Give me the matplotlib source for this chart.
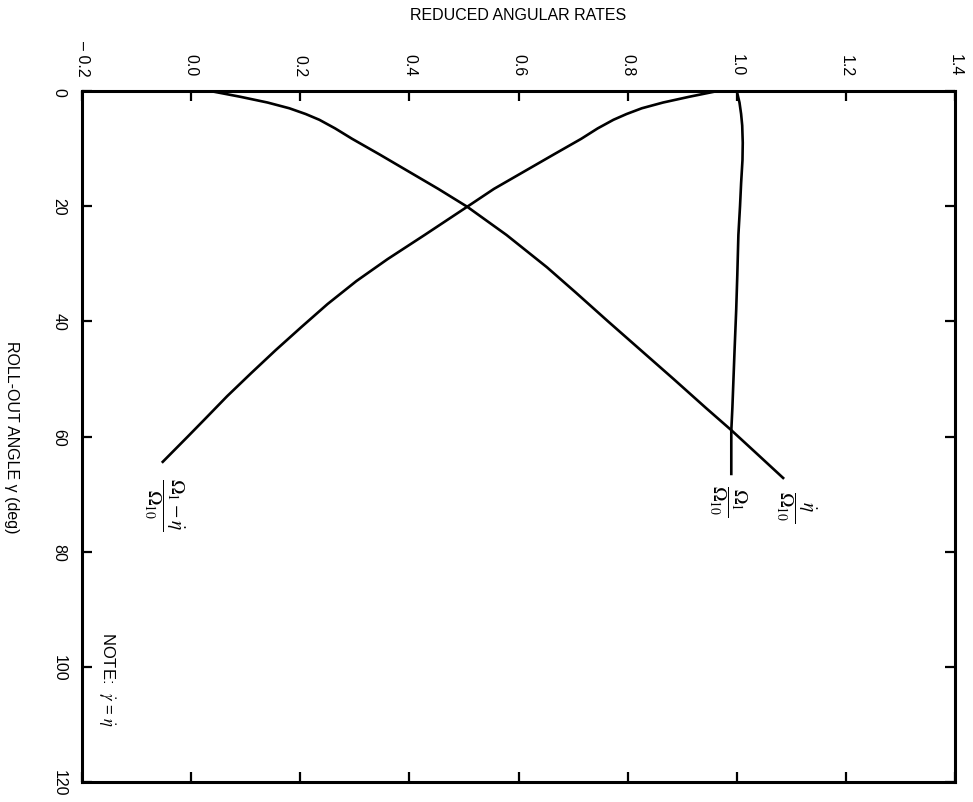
import matplotlib
matplotlib.use("Agg")
import matplotlib.pyplot as plt

plt.rcParams['font.family'] = ['Liberation Sans', 'DejaVu Sans']
plt.rcParams['mathtext.fontset'] = 'stix'

# roll-out angle (deg) vs reduced angular rates
eta_angle = [0, 1, 2, 3, 4, 5, 6.5, 8.3, 11, 14, 17, 20.1, 25, 30.6, 35, 40,
             45, 50, 55, 58.9, 63, 67.2]
eta_rate = [0.035, 0.09, 0.14, 0.18, 0.21, 0.235, 0.264, 0.295, 0.345, 0.399, 0.453, 0.506,
            0.578, 0.652, 0.705, 0.764, 0.824, 0.884, 0.943, 0.99, 1.037, 1.085]

om_angle = [0, 2, 4, 6, 9, 12, 16, 20, 25, 32, 38, 45, 50, 55, 59, 66.5]
om_rate = [1.0, 1.005, 1.008, 1.010, 1.011, 1.0105, 1.008, 1.006, 1.003, 1.001, 0.999,
           0.996, 0.994, 0.992, 0.99, 0.99]

diff_angle = [0, 1, 2, 3, 4, 5, 6.5, 8.3, 11, 14, 17, 20.1, 25, 29.2, 33, 37,
              41, 45, 49, 53, 57, 60, 64.4]
diff_rate = [0.965, 0.913, 0.865, 0.826, 0.798, 0.774, 0.745, 0.715, 0.665, 0.61, 0.555,
             0.506, 0.428, 0.36, 0.303, 0.25, 0.202, 0.155, 0.11, 0.066, 0.025, -0.006,
             -0.052]

rate_ticks = [-0.2, 0.0, 0.2, 0.4, 0.6, 0.8, 1.0, 1.2, 1.4]
rate_labels = ['\u2013 0.2', '0.0', '0.2', '0.4', '0.6', '0.8', '1.0', '1.2', '1.4']
angle_ticks = [0, 20, 40, 60, 80, 100, 120]

fig = plt.figure(figsize=(9.73, 8.03), dpi=100)
ax = fig.add_axes([82 / 973, 1 - 783 / 803, 873 / 973, 691 / 803])

lw = 1.9
ax.plot(eta_rate, eta_angle, color='black', lw=lw)
ax.plot(om_rate, om_angle, color='black', lw=lw)
ax.plot(diff_rate, diff_angle, color='black', lw=lw)

ax.set_xlim(-0.2, 1.4)
ax.set_ylim(120, 0)

ax.set_xticks(rate_ticks)
ax.set_xticklabels(rate_labels)
ax.set_yticks(angle_ticks)
ax.xaxis.tick_top()
ax.tick_params(axis='both', which='major', direction='in', length=7, width=1.6,
               top=True, bottom=True, left=True, right=True,
               labeltop=True, labelbottom=False, labelleft=True, labelright=False,
               labelsize=11.5, pad=11)
for lab in ax.get_xticklabels():
    lab.set_rotation(-90)
    lab.set_va('bottom')
    lab.set_ha('center')
for lab in ax.get_yticklabels():
    lab.set_rotation(-90)
    lab.set_va('center')
    lab.set_ha('right')

for s in ax.spines.values():
    s.set_linewidth(2.2)

ax.xaxis.set_label_position('top')
ax.set_xlabel('REDUCED ANGULAR RATES', fontsize=11.5, va='center', ha='center')
ax.xaxis.set_label_coords(0.5, (783 - 16) / 691)
ax.set_ylabel('ROLL-OUT ANGLE \u03b3 (deg)', fontsize=11.5, rotation=-90,
              va='center', ha='center')
ax.yaxis.set_label_coords((11 - 82) / 873, 0.5)

# curve labels
ax.text(-0.05, 71.7, r'$\dfrac{\Omega_1 - \dot{\eta}}{\Omega_{10}}$', rotation=-90,
        ha='center', va='center', fontsize=14)
ax.text(0.984, 71.0, r'$\dfrac{\Omega_1}{\Omega_{10}}$', rotation=-90,
        ha='center', va='center', fontsize=14)
ax.text(1.107, 72.0, r'$\dfrac{\dot{\eta}}{\Omega_{10}}$', rotation=-90,
        ha='center', va='center', fontsize=14)

ax.text(-0.155, 93.7, r'NOTE:  $\dot{\gamma}$ = $\dot{\eta}$', rotation=-90,
        ha='center', va='top', fontsize=12)

fig.savefig('out.png', dpi=100)
